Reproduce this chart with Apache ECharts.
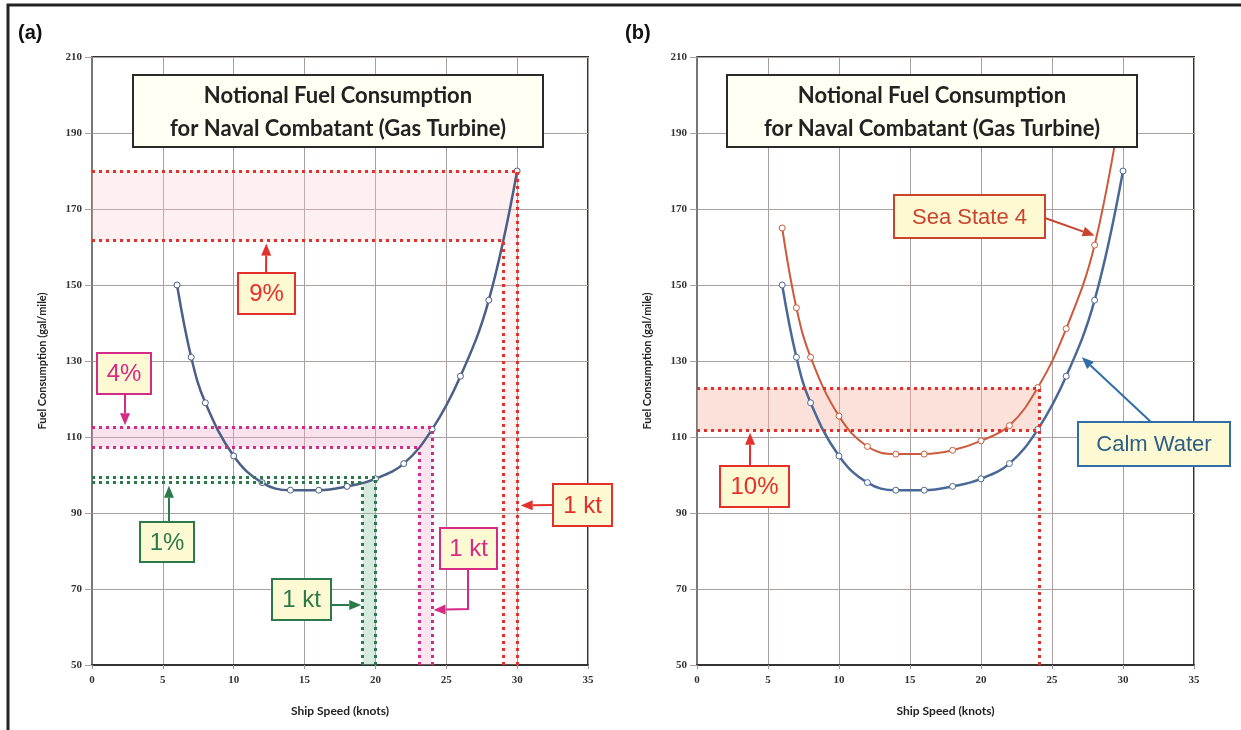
<!DOCTYPE html>
<html>
<head>
<meta charset="utf-8">
<title>Notional Fuel Consumption</title>
<script src="https://cdn.jsdelivr.net/npm/echarts@6/dist/echarts.min.js"></script>
<style>
  html, body { margin: 0; padding: 0; background: #fff; }
  #chart { width: 1241px; height: 730px; }
</style>
</head>
<body>
<div id="chart"></div>
<script>
// ship speed (knots) at the plotted markers
var speed = [6, 7, 8, 10, 12, 14, 16, 18, 20, 22, 24, 26, 28, 30];
// fuel consumption (gal/mile)
var calmWater = [150, 131, 119, 105, 98, 96, 96, 97, 99, 103, 112, 126, 146, 180];
var seaState4 = [165, 144, 131, 115.5, 107.5, 105.5, 105.5, 106.5, 109, 113, 123, 138.5, 160.5, 200];

// annotation levels
var redBand = [161.7, 180];     // 9 %
var redKnots = [29, 30];
var pinkBand = [107.4, 112.5];  // 4 %
var pinkKnots = [23.1, 24];
var greenBand = [98, 99.3];     // 1 %
var greenKnots = [19.1, 20];
var seaBand = [111.7, 122.8];   // 10 %
var seaKnot = 24.1;

var RED = '#e4302b', PINK = '#d42b87', GREEN = '#2c7a4b';
var SEA = '#c9442f', CALM = '#2f6fa6', BOXFILL = '#fdf9d2';

function pairs(xs, ys) {
    return xs.map(function (x, i) { return [x, ys[i]]; });
}

function dotted(color) {
    return { color: color, width: 3, type: [3, 4] };
}

function seg(x1, y1, x2, y2, color) {
    return [{ coord: [x1, y1], lineStyle: dotted(color) }, { coord: [x2, y2] }];
}

function area(x1, y1, x2, y2, color) {
    return [{ coord: [x1, y1], itemStyle: { color: color } }, { coord: [x2, y2] }];
}

var chart = echarts.init(document.getElementById('chart'));

function xAx(gi) {
    return {
        type: 'value', gridIndex: gi, min: 0, max: 35, interval: 5,
        name: 'Ship Speed (knots)', nameLocation: 'middle', nameGap: 40,
        nameTextStyle: { fontFamily: 'Lato', fontWeight: 'bold', fontSize: 12, color: '#222' },
        axisLine: { lineStyle: { color: '#333', width: 2 } },
        axisTick: { show: true, length: 4, lineStyle: { color: '#999' } },
        axisLabel: { margin: 10, fontFamily: 'Liberation Serif', fontWeight: 'bold', fontSize: 11, color: '#333' },
        splitLine: { lineStyle: { color: '#aaa0a0', width: 1 } }
    };
}

function yData(gi) {
    return { type: 'value', gridIndex: gi, position: 'right', min: 50, max: 210, show: false };
}

function yShow(gi) {
    return {
        type: 'value', gridIndex: gi, position: 'left', min: 0, max: 160, interval: 20,
        name: 'Fuel Consumption (gal/mile)', nameLocation: 'middle', nameGap: 44,
        nameTextStyle: { fontFamily: 'Lato', fontWeight: 'bold', fontSize: 11, color: '#222' },
        axisLine: { show: true, lineStyle: { color: '#777', width: 2 } },
        axisTick: { show: true, length: 7, lineStyle: { color: '#aaa0a0' } },
        axisLabel: {
            margin: 10, fontFamily: 'Liberation Serif', fontWeight: 'bold', fontSize: 11, color: '#333',
            formatter: function (v) { return v + 50; }
        },
        splitLine: { lineStyle: { color: '#aaa0a0', width: 1 } }
    };
}

function curve(gi, ys, color, width, name) {
    return {
        name: name, type: 'line', xAxisIndex: gi, yAxisIndex: gi * 2,
        data: pairs(speed, ys), smooth: 0.4,
        symbol: 'circle', symbolSize: 6,
        lineStyle: { color: color, width: width },
        itemStyle: { color: '#fff', borderColor: color, borderWidth: 1 },
        z: 3
    };
}

var calmA = curve(0, calmWater, '#4b5f87', 2.5, 'Calm Water');
calmA.markArea = {
    silent: true, label: { show: false },
    data: [
        area(0, redBand[0], redKnots[1], redBand[1], 'rgba(250,200,200,0.28)'),
        area(redKnots[0], 50, redKnots[1], redBand[0], 'rgba(250,200,200,0.2)'),
        area(0, pinkBand[0], pinkKnots[1], pinkBand[1], 'rgba(240,170,205,0.35)'),
        area(pinkKnots[0], 50, pinkKnots[1], pinkBand[0], 'rgba(240,170,205,0.3)'),
        area(greenKnots[0], 50, greenKnots[1], greenBand[0], 'rgba(140,195,165,0.35)')
    ]
};
calmA.markLine = {
    silent: true, symbol: ['none', 'none'], label: { show: false },
    data: [
        seg(0, redBand[1], redKnots[1], redBand[1], RED),
        seg(0, redBand[0], redKnots[0], redBand[0], RED),
        seg(redKnots[1], 50, redKnots[1], redBand[1], RED),
        seg(redKnots[0], 50, redKnots[0], redBand[0], RED),
        seg(0, pinkBand[1], pinkKnots[1], pinkBand[1], PINK),
        seg(0, pinkBand[0], pinkKnots[0], pinkBand[0], PINK),
        seg(pinkKnots[1], 50, pinkKnots[1], pinkBand[1], PINK),
        seg(pinkKnots[0], 50, pinkKnots[0], pinkBand[0], PINK),
        seg(0, greenBand[1], greenKnots[1], greenBand[1], GREEN),
        seg(0, greenBand[0], greenKnots[0], greenBand[0], GREEN),
        seg(greenKnots[1], 50, greenKnots[1], greenBand[1], GREEN),
        seg(greenKnots[0], 50, greenKnots[0], greenBand[0], GREEN)
    ]
};

var calmB = curve(1, calmWater, '#4a6896', 2.5, 'Calm Water');
var seaB = curve(1, seaState4, '#cc5a3c', 2, 'Sea State 4');
seaB.markArea = {
    silent: true, label: { show: false },
    data: [area(0, seaBand[0], seaKnot, seaBand[1], 'rgba(245,175,155,0.38)')]
};
seaB.markLine = {
    silent: true, symbol: ['none', 'none'], label: { show: false },
    data: [
        seg(0, seaBand[1], seaKnot, seaBand[1], RED),
        seg(0, seaBand[0], seaKnot, seaBand[0], RED),
        seg(seaKnot, 50, seaKnot, seaBand[1], RED)
    ]
};

chart.setOption({
    animation: false,
    backgroundColor: '#fff',
    grid: [
        { left: 92, right: 653, top: 57, bottom: 65, show: true, borderColor: '#333', borderWidth: 2 },
        { left: 697, right: 47, top: 57, bottom: 65, show: true, borderColor: '#333', borderWidth: 2 }
    ],
    xAxis: [xAx(0), xAx(1)],
    yAxis: [yData(0), yShow(0), yData(1), yShow(1)],
    series: [calmA, seaB, calmB]
});

// ---- boxes, arrows and labels ----
var TOP = 100;

function px(gi, x, y) {
    return chart.convertToPixel({ xAxisIndex: gi, yAxisIndex: gi * 2 }, [x, y]);
}

function box(x, y, w, h, text, color, size, stroke) {
    return [
        { type: 'rect', z: TOP, shape: { x: x, y: y, width: w, height: h },
          style: { fill: BOXFILL, stroke: stroke || color, lineWidth: 2 } },
        { type: 'text', z: TOP + 1, x: x + w / 2, y: y + h / 2 + 1,
          style: { text: text, fill: color, font: size + 'px "Liberation Sans"', align: 'center', verticalAlign: 'middle' } }
    ];
}

function titleBox(x) {
    return [
        { type: 'rect', z: TOP, shape: { x: x, y: 75, width: 410, height: 72 },
          style: { fill: '#fffff3', stroke: '#2a2a2a', lineWidth: 2 } },
        { type: 'text', z: TOP + 1, x: x + 205, y: 112,
          style: { text: 'Notional Fuel Consumption\nfor Naval Combatant (Gas Turbine)', fill: '#222',
                   font: 'bold 22px Lato', align: 'center', verticalAlign: 'middle', lineHeight: 33 } }
    ];
}

function arrow(pts, color) {
    var n = pts.length;
    var p1 = pts[n - 2], p2 = pts[n - 1];
    var a = Math.atan2(p2[1] - p1[1], p2[0] - p1[0]);
    var L = 12, W = 5;
    var bx = p2[0] - L * Math.cos(a), by = p2[1] - L * Math.sin(a);
    var line = pts.slice(0, n - 1).concat([[bx, by]]);
    return [
        { type: 'polyline', z: TOP, shape: { points: line }, style: { stroke: color, lineWidth: 2, fill: null } },
        { type: 'polygon', z: TOP, shape: { points: [p2, [bx + W * Math.sin(a), by - W * Math.cos(a)], [bx - W * Math.sin(a), by + W * Math.cos(a)]] },
          style: { fill: color } }
    ];
}

var graphics = [
    { type: 'polyline', z: TOP, shape: { points: [[8, 760], [8, 5], [1260, 5]] }, style: { stroke: '#222', lineWidth: 3, fill: null } },
    { type: 'text', x: 18, y: 33, z: TOP, style: { text: '(a)', font: 'bold 20px "Liberation Sans"', fill: '#111', verticalAlign: 'middle' } },
    { type: 'text', x: 625, y: 33, z: TOP, style: { text: '(b)', font: 'bold 20px "Liberation Sans"', fill: '#111', verticalAlign: 'middle' } }
].concat(
    titleBox(133),
    titleBox(727),

    arrow([[266, 273], px(0, 12.3, redBand[0] - 0.8)], RED),
    box(238, 273, 57, 41, '9%', RED, 24),
    arrow([[125, 394], px(0, 2.33, pinkBand[1] + 0.6)], PINK),
    box(97, 353, 54, 41, '4%', PINK, 24),
    arrow([[169, 522], px(0, 5.43, greenBand[0] - 0.8)], GREEN),
    box(140, 522, 54, 40, '1%', GREEN, 24),
    arrow([[331, 605], px(0, greenKnots[0] - 0.1, 65.8)], GREEN),
    box(272, 579, 59, 41, '1 kt', GREEN, 24),
    arrow([[468, 569], [468, 609], px(0, pinkKnots[1] + 0.1, 64.5)], PINK),
    box(440, 528, 57, 41, '1 kt', PINK, 24),
    arrow([[553, 505], px(0, redKnots[1] + 0.25, 92)], RED),
    box(553, 484, 59, 42, '1 kt', RED, 24),

    arrow([[750, 466], px(1, 3.74, seaBand[0] - 0.6)], RED),
    box(720, 466, 69, 41, '10%', RED, 24),
    arrow([[1045, 218], px(1, 28, 163)], SEA),
    box(894, 195, 151, 43, 'Sea State 4', SEA, 22),
    arrow([[1151, 422], px(1, 27.1, 131)], CALM),
    box(1078, 422, 152, 44, 'Calm Water', '#2d5e86', 22, CALM)
);

chart.setOption({ graphic: graphics });
</script>
</body>
</html>
